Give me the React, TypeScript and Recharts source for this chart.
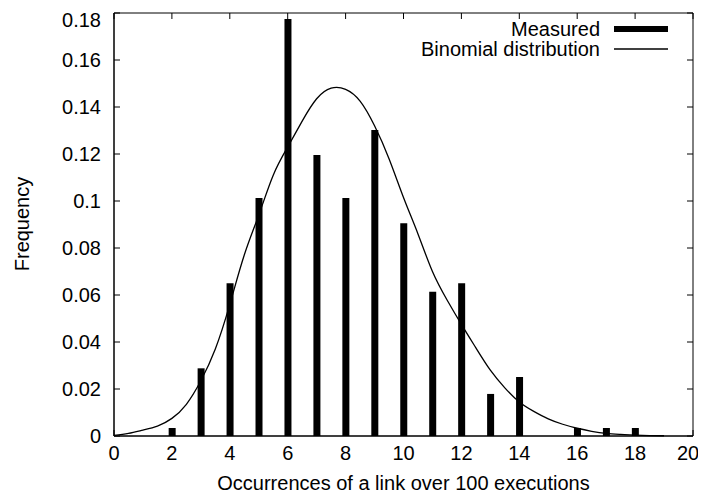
import { ComposedChart, Bar, Line, XAxis, YAxis, Legend, Label, ReferenceArea, ReferenceLine } from "recharts"

const xTicks = [0, 2, 4, 6, 8, 10, 12, 14, 16, 18, 20]
const yTicks = [0, 0.02, 0.04, 0.06, 0.08, 0.1, 0.12, 0.14, 0.16, 0.18]

// measured frequency per number of occurrences (no sample at 15)
const linkCounts = [2, 3, 4, 5, 6, 7, 8, 9, 10, 11, 12, 13, 14, 16, 17, 18]
const measuredFreq = [
  0.0034, 0.0288, 0.065, 0.1013, 0.1774, 0.1196, 0.1013, 0.1302, 0.0905, 0.0614, 0.065, 0.0179, 0.0251, 0.0034,
  0.0034, 0.0034,
]

// binomial curve
const curveAt = [
  0, 0.5, 1, 1.5, 2, 2.5, 3, 3.5, 4, 4.5, 5, 5.5, 6, 6.5, 7, 7.5, 8, 8.5, 9, 9.5, 10, 10.5, 11, 11.5, 12, 12.5, 13,
  13.5, 14, 14.5, 15, 15.5, 16, 16.5, 17, 17.5, 18, 18.5, 19,
]
const binomialFreq = [
  0.0003, 0.0011, 0.0025, 0.0042, 0.0075, 0.0135, 0.0235, 0.037, 0.056, 0.077, 0.094, 0.111, 0.123, 0.134, 0.1435,
  0.148, 0.1475, 0.1425, 0.132, 0.118, 0.1015, 0.086, 0.07, 0.058, 0.0475, 0.0375, 0.028, 0.0205, 0.0145, 0.0105,
  0.0073, 0.005, 0.0033, 0.002, 0.0011, 0.0007, 0.0004, 0.0002, 0.0001,
]

const seriesOrder = ["Measured", "Binomial distribution"]

const rows = curveAt.map((x, i) => {
  const k = linkCounts.indexOf(x)
  return { x, binomial: binomialFreq[i], measured: k >= 0 ? measuredFreq[k] : null }
})

const xMax = 20
const yMax = 0.18
// inward tick length (~6px) for the mirrored ticks on the top and right edges
const topTickLen = (yMax * 6) / 423
const rightTickLen = (xMax * 6) / 579

const font = "'Liberation Sans', Arial, Helvetica, sans-serif"
const tickText = { fill: "#000", fontSize: 20, fontFamily: font }

function KeyBox({ payload }: any) {
  const items = [...(payload || [])].sort((a: any, b: any) => seriesOrder.indexOf(a.value) - seriesOrder.indexOf(b.value))
  return (
    <div style={{ fontFamily: font, fontSize: 20, color: "#000" }}>
      {items.map((item: any) => (
        <div key={item.value} style={{ display: "flex", alignItems: "center", justifyContent: "flex-end", height: 20 }}>
          <span style={{ lineHeight: "20px" }}>{item.value}</span>
          <svg width={54} height={20} style={{ marginLeft: 14 }}>
            {item.value === "Measured" ? (
              <rect x={0} y={7} width={54} height={6} fill="#000" />
            ) : (
              <line x1={0} x2={54} y1={10} y2={10} stroke="#000" strokeWidth={1.3} />
            )}
          </svg>
        </div>
      ))}
    </div>
  )
}

export default function App() {
  return (
    <ComposedChart width={690} height={490} data={rows} margin={{ top: 5, right: 5, bottom: 0, left: 0 }} style={{ fontFamily: font }}>
      <XAxis
        dataKey="x"
        type="number"
        domain={[0, xMax]}
        ticks={xTicks}
        height={62}
        tickSize={-6}
        tickMargin={16}
        tick={tickText}
        axisLine={{ stroke: "#000" }}
        tickLine={{ stroke: "#000" }}
      >
        <Label value="Occurrences of a link over 100 executions" position="insideBottom" offset={8} style={{ fill: "#000", fontSize: 20, fontFamily: font }} />
      </XAxis>
      <YAxis
        type="number"
        domain={[0, yMax]}
        ticks={yTicks}
        width={106}
        tickSize={-6}
        tickMargin={19}
        tick={tickText}
        axisLine={{ stroke: "#000" }}
        tickLine={{ stroke: "#000" }}
      >
        <Label
          content={() => (
            <text x={14} y={216} transform="rotate(-90 14 216)" textAnchor="middle" dominantBaseline="central" fontSize={20} fontFamily={font} fill="#000">
              Frequency
            </text>
          )}
        />
      </YAxis>
      <ReferenceArea x1={0} x2={xMax} y1={0} y2={yMax} fill="none" stroke="#000" strokeWidth={1} ifOverflow="visible" />
      {xTicks.map((t) => (
        <ReferenceLine
          key={`top-${t}`}
          segment={[
            { x: t, y: yMax },
            { x: t, y: yMax - topTickLen },
          ]}
          stroke="#000"
          ifOverflow="visible"
        />
      ))}
      {yTicks.map((t) => (
        <ReferenceLine
          key={`right-${t}`}
          segment={[
            { x: xMax, y: t },
            { x: xMax - rightTickLen, y: t },
          ]}
          stroke="#000"
          ifOverflow="visible"
        />
      ))}
      <Legend
        layout="vertical"
        align="center"
        verticalAlign="middle"
        content={<KeyBox />}
        wrapperStyle={{ top: 11, right: 30, left: "auto", width: "auto" }}
      />
      <Bar dataKey="measured" name="Measured" fill="#000" barSize={7} isAnimationActive={false} />
      <Line
        dataKey="binomial"
        name="Binomial distribution"
        type="natural"
        stroke="#000"
        strokeWidth={1.3}
        dot={false}
        activeDot={false}
        isAnimationActive={false}
      />
    </ComposedChart>
  )
}
